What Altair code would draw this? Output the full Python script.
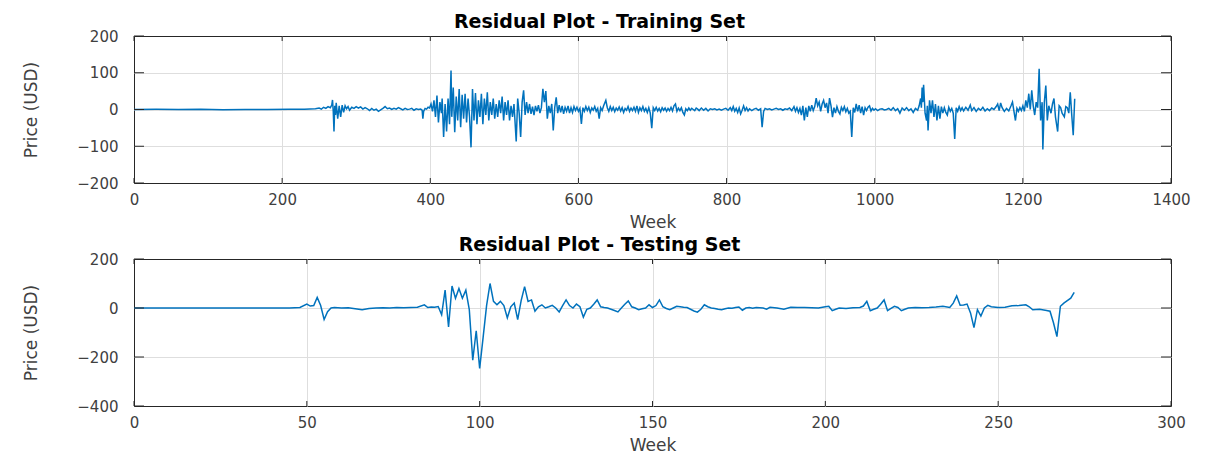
import altair as alt
import pandas as pd

# ---------------- data ----------------
train_pts_a = [
    (0, 0), (30, 0.5), (60, -0.3), (90, 0.4), (120, -0.6), (150, 0.3), (180, 0), (210, 0.5), (230, 1), (245, 2),
    (250, 4), (253, 1), (256, 6), (259, 3), (262, 8), (265, 5), (267, 12), (268, 26), (269, -5), (270, -60),
    (271, 10), (272, -15), (273, 18), (275, -25), (277, 10), (279, -20), (281, 12), (283, -8), (285, 10),
    (287, 2), (289, 8), (291, -2), (294, 6), (297, 3), (300, 8), (303, 4), (306, 7), (309, 1), (312, 5),
    (315, 2), (318, -3), (321, 3), (324, -2), (327, 1), (330, -5), (333, -1), (336, 3), (339, 8), (342, 2),
    (345, 4), (348, 0), (351, 3), (354, 1), (357, 5), (360, 2), (363, -1), (366, 3), (369, 0), (372, 1),
    (375, 3), (378, -2), (381, 2), (384, 0), (387, 1), (389, -2), (390, -25), (391, -5), (393, 3), (395, 1),
    (397, 6), (399, 4),
]
train_pts_b = [
    (401, 15), (403, -5), (405, 25), (407, -20), (409, 38), (411, -35), (413, 20), (415, -10), (416, 30),
    (418, -75), (420, 15), (422, -60), (424, 30), (426, -40), (428, 106), (429, -20), (431, 60), (433, -62),
    (435, 35), (437, -30), (439, 56), (441, -48), (443, 40), (445, -25), (447, 43), (449, -35), (451, 30),
    (453, -20), (455, -103), (457, 56), (459, -30), (461, 45), (463, -40), (465, 25), (467, -20), (469, 43),
    (471, -40), (473, 30), (475, -15), (477, 47), (479, -30), (481, 20), (483, -15), (485, 30), (487, -25),
    (489, 15), (491, -20), (493, 25), (495, -10), (497, 35), (499, -30), (501, 20), (503, -15),
]
train_pts_c = [
    (505, 25), (507, -30), (509, 10), (511, -20), (513, 15), (516, -87), (518, 30), (520, -10), (522, -75),
    (524, 20), (526, 52), (528, -15), (530, 20), (532, -10), (534, 15), (536, -12), (538, 8), (540, -15),
    (542, 10), (544, -5), (546, 12), (548, -10), (550, 5), (552, 56), (554, 20), (556, 50), (558, -25),
    (560, 10), (562, -10), (564, 15), (566, -57), (568, 5), (570, 33), (572, -10), (574, 12), (576, -8),
    (578, 10), (580, -12), (582, 6), (584, -5), (586, 10), (588, -10), (590, 5), (592, -8), (594, 8),
    (596, -3), (598, 6), (600, -5), (602, 3), (604, -39), (606, 5), (608, -5), (610, 8), (612, -3), (614, 6),
    (616, -8), (618, 4), (620, -2), (622, 8), (624, -5), (626, 3), (628, -25), (630, 5), (632, -3), (634, 10),
    (637, 25), (639, 5), (641, -5), (643, 8), (645, -3), (647, 6), (649, -6), (651, 4), (653, -2), (655, 7),
    (657, -4), (659, 5), (661, -8), (663, 3), (665, -2), (667, 8), (669, -5), (671, 4), (673, -3), (675, 6),
    (677, -5), (679, 10), (681, -8), (683, 5), (685, -3), (687, 8), (689, -5), (691, 3), (693, -8), (695, 5),
    (697, -10), (699, -51), (701, 5), (703, -3), (705, 6), (707, -4), (709, 3), (711, -6), (713, 5),
    (715, -2), (717, 4), (719, -5), (721, 3), (723, -3), (725, 6), (727, -4), (729, 10), (731, 15), (733, -5),
    (735, 4), (737, -3), (739, 5), (741, -8), (743, -15), (745, 2), (747, -3), (749, 4), (751, -2), (753, 3),
    (755, 0), (757, -3), (759, 4), (761, 1),
]
train_pts_d = [
    (763, -3), (766, 4), (769, -2), (772, 3), (775, -4), (778, 2), (781, 0), (784, 2), (787, -1), (790, 1),
    (793, -2), (796, 1), (799, 3), (802, -2), (805, 5), (807, -3), (809, 8), (811, -5), (813, 3), (815, -8),
    (817, 4), (819, -12), (821, -2), (823, 10), (825, -3), (827, 5), (829, -4), (831, 2), (834, -3), (837, 1),
    (840, 3), (843, -2), (846, 2), (848, -48), (850, -5), (852, 3), (855, 0), (858, 2), (861, -1), (864, 1),
    (867, 3), (870, 0), (873, 2), (876, -2), (879, 2), (882, 0), (885, 4), (888, -3), (891, 8), (893, -5),
    (895, 5), (897, -8), (899, 3), (901, -15), (903, 10), (905, -30), (907, 5), (909, -20), (911, 10),
    (913, -5), (915, 12), (917, -3), (919, 8), (921, 31), (923, 10), (925, 20), (927, -5), (929, 15),
    (931, 25), (933, 5), (935, 18), (937, -10), (939, 31), (941, 10), (943, -21), (945, 5), (947, -10),
    (949, 8), (951, -5), (953, -12), (955, 6), (957, -3), (959, 8), (961, -6), (963, 3), (965, -10),
    (967, -5), (969, -75), (971, 5), (973, -8), (975, 15), (977, -5), (979, 12), (981, -10), (983, 8),
    (985, -15), (987, 5), (989, -3), (991, 6), (993, 10), (995, -4), (997, 3), (999, -2), (1001, 2),
    (1004, -3), (1007, 1), (1010, 2), (1013, -1), (1016, 0),
]
train_pts_e = [
    (1019, 3), (1022, -2), (1025, 5), (1028, -3), (1031, 2), (1034, -10), (1037, 4), (1040, -2), (1043, 5),
    (1046, -3), (1049, 2), (1052, -8), (1055, 3), (1058, -2), (1060, 10), (1062, 30), (1063, 5), (1064, 60),
    (1065, 20), (1066, 67), (1068, -10), (1070, -30), (1071, 10), (1072, -57), (1074, 25), (1076, -10),
    (1078, 25), (1080, -20), (1082, 15), (1084, -30), (1086, 10), (1088, -25), (1090, 8), (1092, -10),
    (1094, 5), (1096, -8), (1098, -15), (1100, 6), (1102, -5), (1104, 3), (1106, -10), (1108, -80),
    (1110, 5), (1112, -5), (1114, 8), (1116, -3), (1118, 5), (1120, -4), (1123, 6), (1126, -2), (1129, 12),
    (1131, -3), (1134, 5), (1137, -5), (1140, 3), (1143, -2), (1146, 6), (1149, -4), (1152, 2), (1155, -3),
    (1158, 4), (1161, 0), (1164, 8), (1166, 15), (1168, -3), (1170, 18), (1172, 5), (1175, -5), (1178, 3),
    (1181, -4), (1184, 10), (1186, 20), (1188, -5), (1190, -30), (1192, 3), (1194, -5), (1196, 5),
    (1198, -3), (1200, 10), (1202, -5), (1204, 25), (1206, 5), (1208, 43), (1210, 0), (1212, 52),
    (1214, 10), (1216, -15), (1218, 20), (1220, 5), (1222, 111), (1224, -30), (1226, 20), (1227, -109),
    (1229, 20), (1231, 65), (1233, -30), (1235, 10), (1238, -10), (1240, 15), (1242, 30), (1244, -20),
    (1247, -60), (1249, 10), (1251, 5), (1253, -10), (1256, -20), (1258, 8), (1260, 5), (1262, -10),
    (1264, 47), (1266, -15), (1268, -70), (1270, 29),
]
test_pts = [
    (0, 0), (10, 0), (20, 0.5), (30, 0), (40, 0.5), (45, 0.5), (48, 2), (50, 16), (51, 8), (52, 10),
    (53, 43), (54, 10), (55, -47), (56, -15), (57, 0), (58, 2), (60, 0), (62, 1), (64, -3), (66, -7),
    (68, -2), (70, 0), (72, 1), (74, 0), (76, 2), (78, 1), (80, 2), (82, 3), (84, 13), (85, 2), (86, 4),
    (87, 3), (88, 6), (89, -27), (90, 73), (91, -77), (92, 90), (93, 40), (94, 80), (95, 40), (96, 73),
    (97, -7), (98, -213), (99, -93), (100, -247), (101, -120), (102, 10), (103, 100), (104, 27), (105, 13),
    (106, 27), (107, 10), (108, -40), (109, 5), (110, 20), (111, -47), (112, 30), (113, 87), (114, 27),
    (115, 33), (116, -13), (117, 5), (118, 13), (119, 0), (120, 5), (121, 11), (122, 0), (123, -16),
    (124, 10), (125, 33), (126, 10), (127, 0), (128, 16), (129, 5), (130, -37), (131, -5), (132, 0),
    (133, 15), (134, 33), (135, 5), (136, 2), (137, 0), (138, -5), (139, -10), (140, -16), (141, 0),
    (142, 15), (143, 29), (144, 5), (145, 0), (146, -7), (147, -3), (148, 0), (149, 13), (150, 2),
    (151, 10), (152, 33), (153, 5), (154, -2), (155, -7), (156, 0), (157, 7), (158, 5), (159, 3), (160, 2),
    (161, -5), (162, -12), (163, -17), (164, -5), (165, 13), (166, 5), (167, 0), (168, -2), (169, -5),
    (170, -7), (171, -3), (172, 0), (173, -1), (174, 2), (175, 4), (176, -9), (177, 0), (178, 2),
    (179, -1), (180, 2), (182, 0), (183, -5), (184, 3), (186, 0), (188, -5), (190, 3), (192, 2), (194, 2),
    (196, 1), (198, 0), (200, 5), (201, 7), (202, -11), (203, -5), (204, 0), (206, -2), (208, 1), (210, 2),
    (211, 8), (212, 27), (213, -11), (214, -5), (215, 0), (216, 15), (217, 33), (218, -11), (219, -2),
    (220, 7), (221, 2), (222, -11), (223, -5), (224, 0), (226, 2), (228, 1), (230, 2), (232, 4), (234, 7),
    (236, 2), (237, 20), (238, 49), (239, 11), (240, 12), (241, 16), (242, -20), (243, -80), (244, -7),
    (245, -33), (246, 0), (247, 11), (248, 5), (250, 2), (252, 3), (254, 9), (256, 10), (258, 13),
    (259, 5), (260, -7), (262, -5), (264, -10), (265, -13), (266, -60), (267, -117), (268, 7), (269, 20),
    (270, 30), (271, 40), (272, 64),
]

train_xticks = [0, 200, 400, 600, 800, 1000, 1200, 1400]
train_yticks = [-200, -100, 0, 100, 200]
test_xticks = [0, 50, 100, 150, 200, 250, 300]
test_yticks = [-400, -200, 0, 200]

titles = ["Residual Plot - Training Set", "Residual Plot - Testing Set"]

# ---------------- style ----------------
W, H = 1037, 147
LINE = "#0072BD"
AXC = "#262626"
TXT = "#404040"
FONT = "DejaVu Sans"


def edge_hidden(lo, hi):
    return {"condition": {"test": f"datum.value <= {lo} || datum.value >= {hi}", "value": 0},
            "value": 1}


def panel(pts, xt, yt, title, lw):
    df = pd.DataFrame(pts, columns=["week", "value"])
    xs = alt.Scale(domain=[xt[0], xt[-1]], nice=False, zero=False)
    ys = alt.Scale(domain=[yt[0], yt[-1]], nice=False, zero=False)
    xaxis = alt.Axis(values=xt, title="Week", grid=True, gridColor="#dedede", gridWidth=1,
                     gridOpacity=edge_hidden(xt[0], xt[-1]),
                     ticks=False, domain=False, labelFont=FONT, labelFontSize=15, labelColor=TXT,
                     labelPadding=9, labelFlush=False, labelOverlap=False, format="d",
                     titleFont=FONT, titleFontSize=17, titleFontWeight="normal", titleColor=TXT,
                     titlePadding=7)
    yaxis = alt.Axis(values=yt, title="Price (USD)", grid=True, gridColor="#dedede", gridWidth=1,
                     gridOpacity=edge_hidden(yt[0], yt[-1]),
                     ticks=False, domain=False, labelFont=FONT, labelFontSize=15, labelColor=TXT,
                     labelPadding=16, labelOverlap=False, format="d",
                     titleFont=FONT, titleFontSize=17, titleFontWeight="normal", titleColor=TXT,
                     titlePadding=36)
    X = alt.X("week:Q", scale=xs, axis=xaxis)
    Y = alt.Y("value:Q", scale=ys, axis=yaxis)
    line = alt.Chart(df).mark_line(color=LINE, strokeWidth=lw, clip=True).encode(x=X, y=Y)
    xdf = pd.DataFrame({"week": xt})
    ydf = pd.DataFrame({"value": yt})
    xt_top = alt.Chart(xdf).mark_rule(color=AXC, strokeWidth=1).encode(
        x=X, y=alt.value(0), y2=alt.value(5))
    xt_bot = alt.Chart(xdf).mark_rule(color=AXC, strokeWidth=1).encode(
        x=X, y=alt.value(H), y2=alt.value(H - 5))
    yt_l = alt.Chart(ydf).mark_rule(color=AXC, strokeWidth=1).encode(
        y=Y, x=alt.value(0), x2=alt.value(10))
    yt_r = alt.Chart(ydf).mark_rule(color=AXC, strokeWidth=1).encode(
        y=Y, x=alt.value(W), x2=alt.value(W - 10))
    return alt.layer(line, xt_top, xt_bot, yt_l, yt_r).properties(
        width=W, height=H,
        title=alt.TitleParams(title, font=FONT, fontSize=19, fontWeight="bold", color="#000000",
                              anchor="middle", dx=-53, offset=-3),
    )


train_pts = train_pts_a + train_pts_b + train_pts_c + train_pts_d + train_pts_e
top = panel(train_pts, train_xticks, train_yticks, titles[0], 1.5)
bot = panel(test_pts, test_xticks, test_yticks, titles[1], 1.5)

chart = alt.vconcat(top, bot, spacing=4).properties(
    padding={"left": 14, "top": 4, "right": 5, "bottom": 0},
    background="white",
).configure_view(stroke=AXC, strokeWidth=1)

chart.save("out.html", embed_options={"renderer": "svg", "actions": False})
